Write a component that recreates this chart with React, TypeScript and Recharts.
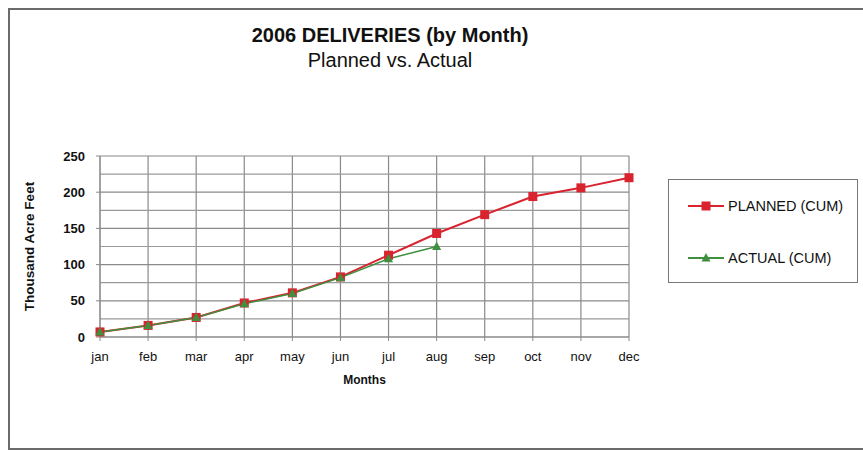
import { CartesianGrid, Label, Line, LineChart, ReferenceLine, XAxis, YAxis } from 'recharts';

const months = ['jan', 'feb', 'mar', 'apr', 'may', 'jun', 'jul', 'aug', 'sep', 'oct', 'nov', 'dec'];
const planned = [7, 16, 27, 47, 61, 83, 113, 143, 169, 194, 206, 220];
const actual = [7, 16, 27, 46, 60, 82, 108, 125, null, null, null, null];
const yTicks = [0, 50, 100, 150, 200, 250];
const minorGrid = [25, 75, 125, 175, 225];

const data = months.map((month, i) => ({ month, planned: planned[i], actual: actual[i] }));

const red = '#d9232e';
const green = '#3f8f3f';
const font = '"Liberation Sans", Arial, sans-serif';

const SquareDot = (props: any) => {
  const { cx, cy, index } = props;
  if (cx == null || cy == null) return null;
  return <rect key={`sq-${index}`} x={cx - 4.5} y={cy - 4.5} width={9} height={9} fill={red} />;
};

const TriangleDot = (props: any) => {
  const { cx, cy, index } = props;
  if (cx == null || cy == null) return null;
  return <polygon key={`tr-${index}`} points={`${cx},${cy - 5} ${cx + 4.5},${cy + 3.5} ${cx - 4.5},${cy + 3.5}`} fill={green} />;
};

const legendItems = [
  { label: 'PLANNED (CUM)', color: red, marker: 'square' },
  { label: 'ACTUAL (CUM)', color: green, marker: 'triangle' },
];

export default function App() {
  return (
    <div style={{ position: 'absolute', left: 0, top: 0, width: 863, height: 451, overflow: 'hidden', background: '#fff', fontFamily: font }}>
      <div style={{ position: 'absolute', left: 8, top: 8, width: 880, height: 438, border: '2px solid #6b6b6b' }} />
      <div style={{ position: 'absolute', left: 140, width: 500, top: 23, textAlign: 'center', fontSize: 20, fontWeight: 'bold', color: '#111', lineHeight: '24px' }}>
        2006 DELIVERIES (by Month)
      </div>
      <div style={{ position: 'absolute', left: 140, width: 500, top: 48, textAlign: 'center', fontSize: 20, color: '#111', lineHeight: '24px' }}>
        Planned vs. Actual
      </div>

      <LineChart width={863} height={451} data={data} margin={{ top: 156, right: 234, bottom: 84, left: 40 }} style={{ position: 'absolute', left: 0, top: 0 }}>
        <CartesianGrid stroke="#8a8a8a" strokeWidth={1.2} />
        {minorGrid.map((v) => (
          <ReferenceLine key={v} y={v} stroke="#9a9a9a" strokeWidth={1.2} />
        ))}
        <XAxis
          dataKey="month"
          height={30}
          tickSize={4}
          tickMargin={11}
          stroke="#8a8a8a"
          tick={{ fontSize: 13, fill: '#111', fontFamily: font }}
        >
          <Label value="Months" position="bottom" offset={8} style={{ fontSize: 12, fontWeight: 'bold', fill: '#111', fontFamily: font }} />
        </XAxis>
        <YAxis
          width={60}
          domain={[0, 250]}
          ticks={yTicks}
          tickSize={4}
          tickMargin={11}
          stroke="#8a8a8a"
          tick={{ fontSize: 13, fontWeight: 'bold', fill: '#111', fontFamily: font }}
        >
          <Label
            content={({ viewBox }: any) => {
              const cx = viewBox.x - 11;
              const cy = viewBox.y + viewBox.height / 2;
              return (
                <text x={cx} y={cy} transform={`rotate(-90 ${cx} ${cy})`} textAnchor="middle" dominantBaseline="central" fontSize={13.5} fontWeight="bold" fill="#111" fontFamily={font}>
                  Thousand Acre Feet
                </text>
              );
            }}
          />
        </YAxis>
        <Line type="linear" dataKey="planned" stroke={red} strokeWidth={2} dot={SquareDot} activeDot={false} isAnimationActive={false} />
        <Line type="linear" dataKey="actual" stroke={green} strokeWidth={1.5} dot={TriangleDot} activeDot={false} connectNulls={false} isAnimationActive={false} />
      </LineChart>

      <div style={{ position: 'absolute', left: 668, top: 179, width: 188, height: 102, border: '1.5px solid #777', background: '#fff' }}>
        {legendItems.map((item, i) => (
          <div key={item.label} style={{ position: 'absolute', left: 19, top: 15 + i * 52, height: 22, display: 'flex', alignItems: 'center' }}>
            <svg width={36} height={12} style={{ marginRight: 4 }}>
              <line x1={0} y1={6} x2={36} y2={6} stroke={item.color} strokeWidth={2} />
              {item.marker === 'square' ? (
                <rect x={13.5} y={1.5} width={9} height={9} fill={item.color} />
              ) : (
                <polygon points="18,1 22.5,9.5 13.5,9.5" fill={item.color} />
              )}
            </svg>
            <span style={{ fontSize: 14.5, color: '#111', whiteSpace: 'nowrap' }}>{item.label}</span>
          </div>
        ))}
      </div>
    </div>
  );
}
